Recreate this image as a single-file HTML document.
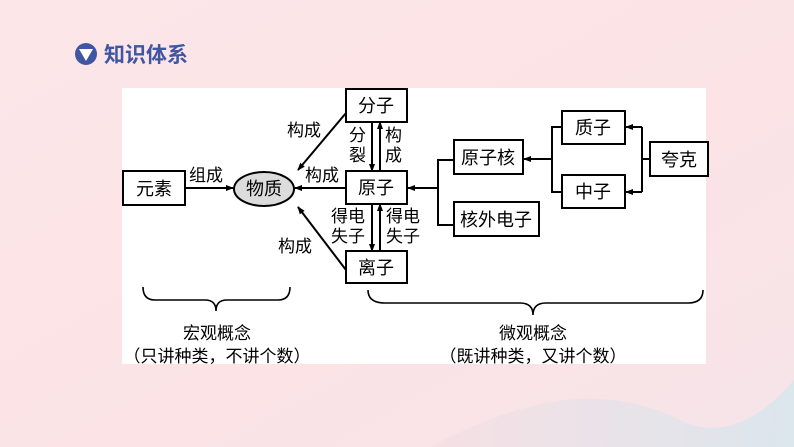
<!DOCTYPE html>
<html><head><meta charset="utf-8"><style>
html,body{margin:0;padding:0}
body{width:794px;height:447px;overflow:hidden;background:#fce6e8;font-family:"Liberation Sans","Noto Sans CJK SC",sans-serif}
</style></head><body>
<svg width="794" height="447" viewBox="0 0 794 447" xmlns="http://www.w3.org/2000/svg" style="position:absolute;left:0;top:0">
<defs>
<linearGradient id="bg" x1="0" y1="0" x2="1" y2="1">
<stop offset="0" stop-color="#fde6e8"/><stop offset="0.6" stop-color="#fbe3e6"/><stop offset="1" stop-color="#f6e4e8"/>
</linearGradient>
<linearGradient id="bl" x1="0" y1="0" x2="1" y2="0">
<stop offset="0" stop-color="#f5dfe3"/><stop offset="1" stop-color="#d5e6ee"/>
</linearGradient>
<marker id="a" markerWidth="8" markerHeight="8" refX="7" refY="4" orient="auto" markerUnits="userSpaceOnUse"><path d="M0,1 L8,4 L0,7 Z" fill="#000"/></marker>
</defs>
<rect width="794" height="447" fill="url(#bg)"/>
<path d="M430,447 C520,400 600,380 680,420 C720,440 760,420 794,380 L794,447 Z" fill="url(#bl)" opacity="0.8"/>
<circle cx="86" cy="54" r="11" fill="#3f56a3"/>
<path d="M79,49 L93,49 L86,61 Z" fill="#fff"/>
<text x="104" y="62" font-size="21" font-weight="bold" fill="#3f56a3" font-family="Liberation Sans,Noto Sans CJK SC,sans-serif">知识体系</text>
<rect x="122" y="88" width="584" height="276" fill="#fff"/>
<g stroke="#000" stroke-width="2" fill="#fff">
<rect x="123" y="171" width="62" height="34"/>
<rect x="346" y="89" width="61" height="33"/>
<rect x="346" y="171" width="61" height="33"/>
<rect x="346" y="251" width="61" height="32"/>
<rect x="454" y="140" width="69" height="34"/>
<rect x="454" y="202" width="85" height="34"/>
<rect x="562" y="111" width="63" height="33"/>
<rect x="562" y="175" width="63" height="33"/>
<rect x="650" y="142" width="58" height="34"/>
</g>
<ellipse cx="264" cy="189" rx="30" ry="17" fill="#dcdcdc" stroke="#000" stroke-width="2"/>
<g stroke="#000" stroke-width="2" fill="none">
<line x1="185" y1="188" x2="233" y2="188" marker-end="url(#a)"/>
<line x1="346" y1="188" x2="295" y2="188" marker-end="url(#a)"/>
<line x1="346" y1="113" x2="298" y2="170" marker-end="url(#a)"/>
<line x1="346" y1="270" x2="298" y2="207" marker-end="url(#a)"/>
<line x1="372" y1="122" x2="372" y2="171" marker-end="url(#a)"/>
<line x1="380" y1="171" x2="380" y2="122" marker-end="url(#a)"/>
<line x1="372" y1="204" x2="372" y2="251" marker-end="url(#a)"/>
<line x1="380" y1="251" x2="380" y2="204" marker-end="url(#a)"/>
<polyline points="454,160 438,160 438,225 454,225"/>
<line x1="438" y1="188" x2="408" y2="188" marker-end="url(#a)"/>
<polyline points="562,127 552,127 552,192 562,192"/>
<line x1="552" y1="159" x2="524" y2="159" marker-end="url(#a)"/>
<polyline points="650,159 642,159"/>
<line x1="642" y1="127" x2="642" y2="192"/>
<line x1="642" y1="127" x2="626" y2="127" marker-end="url(#a)"/>
<line x1="642" y1="192" x2="626" y2="192" marker-end="url(#a)"/>
<path d="M143,287 Q143,300 155,300 L205,300 Q216,300 216,311 Q216,300 227,300 L278,300 Q290,300 290,287" stroke-width="1.6"/>
<path d="M368,290 Q368,303 385,303 L520,303 Q533,303 533,315 Q533,303 546,303 L688,303 Q703,303 703,290" stroke-width="1.6"/>
</g>
<g font-size="18" fill="#000" text-anchor="middle">
<text x="154" y="195">元素</text>
<text x="264" y="195">物质</text>
<text x="376" y="112">分子</text>
<text x="376" y="194">原子</text>
<text x="376" y="274">离子</text>
<text x="488" y="164">原子核</text>
<text x="496" y="226">核外电子</text>
<text x="593" y="134">质子</text>
<text x="593" y="198">中子</text>
<text x="679" y="166">夸克</text>
</g>
<g font-size="17" fill="#000">
<text x="189" y="181">组成</text>
<text x="305" y="181">构成</text>
<text x="287" y="136">构成</text>
<text x="278" y="252">构成</text>
<text x="349" y="141">分</text><text x="349" y="161">裂</text>
<text x="385" y="141">构</text><text x="385" y="161">成</text>
<text x="331" y="222">得电</text><text x="331" y="242">失子</text>
<text x="386" y="222">得电</text><text x="386" y="242">失子</text>
</g>
<g font-size="17" fill="#000" text-anchor="middle">
<text x="217" y="339">宏观概念</text>
<text x="217" y="362">（只讲种类，不讲个数）</text>
<text x="533" y="339">微观概念</text>
<text x="533" y="362">（既讲种类，又讲个数）</text>
</g>
</svg>
</body></html>
